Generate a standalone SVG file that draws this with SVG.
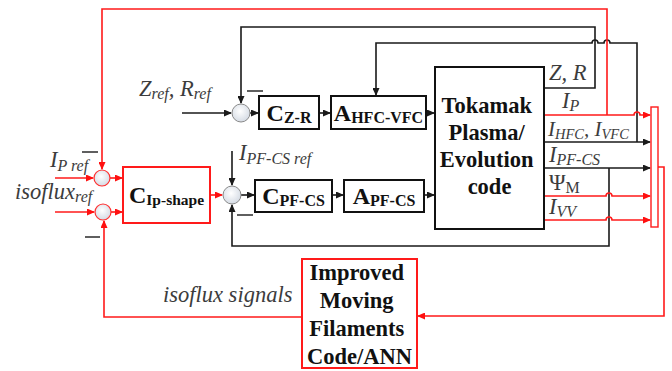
<svg xmlns="http://www.w3.org/2000/svg" width="672" height="371" viewBox="0 0 672 371">
<defs>
<radialGradient id="sg" cx="45%" cy="40%" r="60%">
<stop offset="0" stop-color="#ffffff"/>
<stop offset="1" stop-color="#d5dbe4"/>
</radialGradient>
<marker id="ab" markerWidth="8" markerHeight="7" refX="7" refY="3.5" orient="auto" markerUnits="userSpaceOnUse">
<path d="M0,0 L8,3.5 L0,7 Z" fill="#1a1a1a"/>
</marker>
<marker id="ar" markerWidth="8" markerHeight="7" refX="7" refY="3.5" orient="auto" markerUnits="userSpaceOnUse">
<path d="M0,0 L8,3.5 L0,7 Z" fill="#ff1010"/>
</marker>
<style>
.bk{fill:none;stroke:#1a1a1a;stroke-width:1.6}
.rd{fill:none;stroke:#ff1a1a;stroke-width:1.6}
.box{fill:#fff;stroke:#111;stroke-width:2}
.rbox{fill:#fff;stroke:#ff1a1a;stroke-width:2}
.sb{fill:url(#sg);stroke:#8a8a8a;stroke-width:1}
.sr{fill:url(#sg);stroke:#ff3030;stroke-width:1.2}
.bt{font-family:"Liberation Serif",serif;font-weight:bold;fill:#111;text-anchor:middle}
.lb{font-family:"Liberation Serif",serif;font-style:italic;fill:#3c3c3c;font-size:22.5px}
.up{font-style:normal}
.sub{font-size:16px}
.minus{stroke:#1a1a1a;stroke-width:1.4}
</style>
</defs>

<g id="connectors">
<!-- black -->
<path class="bk" d="M182,113 H231" marker-end="url(#ab)"/>
<path class="bk" d="M250,113 H258" marker-end="url(#ab)"/>
<path class="bk" d="M319,113 H330" marker-end="url(#ab)"/>
<path class="bk" d="M426,113 H434" marker-end="url(#ab)"/>
<path class="bk" d="M544,88 H595 V27 H241 V103" marker-end="url(#ab)"/>
<path class="bk" d="M544,142 H650" marker-end="url(#ab)"/>
<path class="bk" d="M637,142 V43 H610 A3,3 0 0 0 604,43 H598 A3,3 0 0 0 592,43 H376 V95" marker-end="url(#ab)"/>
<path class="bk" d="M544,168 H650" marker-end="url(#ab)"/>
<path class="bk" d="M609,168 V246 H232 V205" marker-end="url(#ab)"/>
<path class="bk" d="M232,151 V185" marker-end="url(#ab)"/>
<path class="bk" d="M241,195 H254" marker-end="url(#ab)"/>
<path class="bk" d="M332,195 H343" marker-end="url(#ab)"/>
<path class="bk" d="M424,195 H434" marker-end="url(#ab)"/>
<!-- red -->
<path class="rd" d="M607,115 V9 H102 V169" marker-end="url(#ar)"/>
<path class="rd" d="M544,115 H634 A3,3 0 0 1 640,115 H650" marker-end="url(#ar)"/>
<path class="rd" d="M55,178 H93" marker-end="url(#ar)"/>
<path class="rd" d="M110,178 H122" marker-end="url(#ar)"/>
<path class="rd" d="M55,212 H94" marker-end="url(#ar)"/>
<path class="rd" d="M111,212 H122" marker-end="url(#ar)"/>
<path class="rd" d="M210,195 H222" marker-end="url(#ar)"/>
<path class="rd" d="M544,196 H606 A3,3 0 0 1 612,196 H650" marker-end="url(#ar)"/>
<path class="rd" d="M544,220 H606 A3,3 0 0 1 612,220 H650" marker-end="url(#ar)"/>
<rect x="651" y="107" width="7" height="120" fill="#fff" stroke="#ff1a1a" stroke-width="1.4"/>
<path class="rd" d="M658,167 H664 V316 H418" marker-end="url(#ar)"/>
<path class="rd" d="M302,317 H104 V221" marker-end="url(#ar)"/>
<!-- minus signs -->
<line class="minus" x1="247" y1="91" x2="263" y2="91"/>
<line class="minus" x1="237" y1="215" x2="253" y2="215"/>
<line class="minus" x1="82" y1="152" x2="98" y2="152"/>
<line class="minus" x1="85" y1="237" x2="100" y2="237"/>
</g>

<g id="sum-zr"><circle class="sb" cx="241" cy="113" r="9"/></g>
<g id="sum-pfcs"><circle class="sb" cx="232" cy="195" r="9"/></g>
<g id="sum-ip"><circle class="sr" cx="102" cy="178" r="8"/></g>
<g id="sum-iso"><circle class="sr" cx="103" cy="212" r="8"/></g>

<g id="czr">
<rect class="box" x="259" y="96" width="60" height="33"/>
<text class="bt" x="289" y="121" font-size="24">C<tspan font-size="16" dy="2">Z-R</tspan></text>
</g>
<g id="ahfc">
<rect class="box" x="331" y="96" width="95" height="33"/>
<text class="bt" x="378.5" y="121" font-size="24">A<tspan font-size="16" dy="2">HFC-VFC</tspan></text>
</g>
<g id="cpfcs">
<rect class="box" x="255" y="180" width="77" height="32"/>
<text class="bt" x="293.5" y="204" font-size="24">C<tspan font-size="16" dy="2">PF-CS</tspan></text>
</g>
<g id="apfcs">
<rect class="box" x="344" y="180" width="80" height="32"/>
<text class="bt" x="384" y="204" font-size="24">A<tspan font-size="16" dy="2">PF-CS</tspan></text>
</g>
<g id="cip">
<rect class="rbox" x="123" y="167" width="87" height="56"/>
<text class="bt" x="166.5" y="203" font-size="24">C<tspan font-size="15.5" dy="2">Ip-shape</tspan></text>
</g>
<g id="tokamak">
<rect class="box" x="435" y="67" width="109" height="162"/>
<text class="bt" font-size="22.5">
<tspan x="489.5" y="113">Tokamak</tspan>
<tspan x="489.5" y="140">Plasma/</tspan>
<tspan x="489.5" y="167">Evolution</tspan>
<tspan x="489.5" y="194">code</tspan>
</text>
</g>
<g id="improved">
<rect class="rbox" x="302" y="259" width="115" height="109"/>
<text class="bt" font-size="22.5">
<tspan x="359.5" y="280">Improved</tspan>
<tspan x="359.5" y="308">Moving</tspan>
<tspan x="359.5" y="336">Filaments</tspan>
<tspan x="359.5" y="364">Code/ANN</tspan>
</text>
</g>

<g id="labels">
<text class="lb" x="139" y="96">Z<tspan class="sub" dy="3">ref</tspan><tspan dy="-3">, R</tspan><tspan class="sub" dy="3">ref</tspan></text>
<text class="lb" x="50" y="167">I<tspan class="sub" dy="4">P ref</tspan></text>
<text class="lb" x="15" y="199">isoflux<tspan class="sub" dy="3">ref</tspan></text>
<text class="lb" x="239" y="160">I<tspan class="sub" dy="4">PF-CS ref</tspan></text>
<text class="lb" x="163" y="302">isoflux signals</text>
<text class="lb" x="549" y="80">Z, R</text>
<text class="lb" x="562" y="108">I<tspan class="sub" dy="3">P</tspan></text>
<text class="lb" x="548" y="136" style="font-size:21px">I<tspan dy="3" style="font-size:14.5px">HFC</tspan><tspan dy="-3">, I</tspan><tspan dy="3" style="font-size:14.5px">VFC</tspan></text>
<text class="lb" x="549" y="162">I<tspan class="sub" dy="3">PF-CS</tspan></text>
<text class="lb up" x="549" y="190">Ψ<tspan class="sub" dy="3">M</tspan></text>
<text class="lb" x="549" y="214">I<tspan class="sub" dy="3">VV</tspan></text>
</g>
</svg>
